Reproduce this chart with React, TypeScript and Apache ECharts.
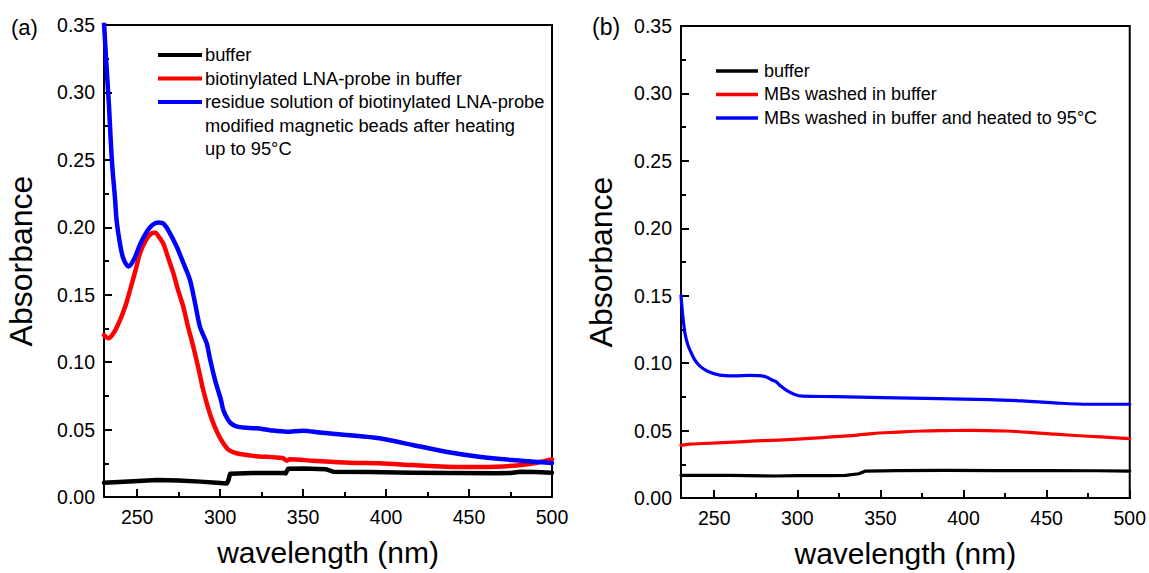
import React, { useEffect, useRef } from "react";
import * as echarts from "echarts";

// ---------- data (wavelength nm, absorbance) ----------
const xMajorTicks = [250, 300, 350, 400, 450, 500];
const xMinorTicks = [275, 325, 375, 425, 475];

const legendA = [
  "buffer",
  "biotinylated LNA-probe in buffer",
  "residue solution of biotinylated LNA-probe\nmodified magnetic beads after heating\nup to 95°C",
];
const legendB = [
  "buffer",
  "MBs washed in buffer",
  "MBs washed in buffer and heated to 95°C",
];

const aBuffer: [number, number][] = [
  [230, 0.0105], [245, 0.0115], [262, 0.0126], [275, 0.0122], [288, 0.0114],
  [298, 0.0105], [304, 0.0101], [305, 0.0125], [306, 0.0172], [320, 0.0178],
  [338, 0.0178], [339.5, 0.0175], [341, 0.021], [350, 0.0212], [364, 0.0205],
  [368, 0.0188], [390, 0.0185], [416, 0.018], [440, 0.0178], [466, 0.0176],
  [475, 0.0178], [481, 0.0188], [490, 0.0186], [500, 0.018],
];
const aProbe: [number, number][] = [
  [230, 0.12], [232.6, 0.1177], [236, 0.122], [239.6, 0.131], [243, 0.142],
  [245.7, 0.1535], [249, 0.168], [251.7, 0.1807], [255, 0.19], [258.7, 0.1955],
  [261, 0.196], [263, 0.193], [265.7, 0.188], [268.5, 0.178], [271.8, 0.166],
  [274.5, 0.154], [277.8, 0.141], [280.5, 0.127], [283.8, 0.1115], [287, 0.095],
  [289.8, 0.0793], [293, 0.065], [295.9, 0.0546], [299, 0.046], [301.9, 0.0398],
  [305, 0.035], [309.9, 0.0324], [320, 0.0305], [338, 0.0287], [340, 0.027],
  [342, 0.028], [356, 0.0269], [378, 0.0254], [396, 0.025], [416, 0.0237],
  [436, 0.0225], [450, 0.0222], [466, 0.0225], [480, 0.0235], [489, 0.025],
  [495, 0.0265], [500, 0.028],
];
const aResidue: [number, number][] = [
  [230, 0.352], [231, 0.33], [232, 0.31], [233, 0.29], [234, 0.266], [235, 0.245],
  [236.6, 0.222], [237.6, 0.205], [239.6, 0.188], [241.6, 0.177], [244.7, 0.171],
  [248, 0.176], [252, 0.188], [256, 0.197], [259, 0.2015], [262.7, 0.2035],
  [266, 0.2025], [270, 0.195], [273.8, 0.1856], [278, 0.173], [281.8, 0.161],
  [285, 0.143], [287.9, 0.126], [291.9, 0.114], [293.6, 0.104], [296.9, 0.0868],
  [300.5, 0.0719], [301.9, 0.0645], [304.9, 0.057], [307.9, 0.0534], [312, 0.0518],
  [322, 0.0509], [330, 0.0495], [340, 0.0484], [350, 0.0492], [360, 0.0478],
  [376, 0.046], [396, 0.0435], [416, 0.0386], [436, 0.0336], [456, 0.0299],
  [476, 0.0274], [500, 0.0252],
];

const bBuffer: [number, number][] = [
  [230, 0.0168], [260, 0.0168], [287, 0.0163], [300, 0.0166], [320, 0.0166],
  [329, 0.0168], [337, 0.018], [341, 0.02], [360, 0.0203], [389, 0.0205],
  [420, 0.0203], [450, 0.0203], [480, 0.0202], [500, 0.02],
];
const bWashed: [number, number][] = [
  [230, 0.039], [235, 0.0399], [255, 0.041], [275, 0.0423], [295, 0.0433],
  [315, 0.0448], [330, 0.046], [345, 0.0478], [360, 0.0488], [375, 0.0497],
  [390, 0.05], [405, 0.0502], [425, 0.0497], [440, 0.0487], [455, 0.0473],
  [475, 0.0458], [490, 0.0448], [500, 0.044],
];
const bHeated: [number, number][] = [
  [230, 0.15], [231, 0.136], [232.4, 0.122], [234, 0.114], [235.4, 0.1097],
  [238, 0.103], [241.4, 0.0978], [246, 0.094], [253.3, 0.0911], [262, 0.0905],
  [271.3, 0.091], [277, 0.0908], [281.3, 0.0898], [284, 0.088], [287.3, 0.0861],
  [290, 0.083], [293.3, 0.08], [298, 0.077], [303.2, 0.0755], [323, 0.0752],
  [351, 0.0745], [385, 0.0737], [415, 0.073], [435, 0.072], [455, 0.0705],
  [475, 0.0695], [500, 0.0695],
];

const COLORS = ["#000000", "#ff0000", "#0000ff"];
const FONT = '"Liberation Sans", Arial, sans-serif';

export default function App() {
  const ref = useRef<HTMLDivElement>(null);

  useEffect(() => {
    document.body.style.margin = "0";
    if (!ref.current) return;
    const chart = echarts.init(ref.current, null, { renderer: "svg" });

    const grids = [
      { left: 104, top: 25, width: 448, height: 472 },
      { left: 681, top: 26, width: 451, height: 475 },
    ];

    const mainX = (gi: number, gap: number) => ({
      type: "value",
      gridIndex: gi,
      min: 230,
      max: 500,
      name: "wavelength (nm)",
      nameLocation: "middle",
      nameGap: gap,
      nameTextStyle: { fontSize: 30, color: "#000", fontFamily: FONT },
      axisLine: { show: true, onZero: false, lineStyle: { color: "#000", width: 2 } },
      axisTick: {
        show: true,
        inside: true,
        length: 8,
        customValues: xMajorTicks,
        lineStyle: { color: "#000", width: 2 },
      },
      axisLabel: {
        show: true,
        customValues: xMajorTicks,
        margin: 10,
        fontSize: 19.5,
        color: "#000",
        fontFamily: FONT,
      },
      splitLine: { show: false },
    });
    const minorX = (gi: number) => ({
      type: "value",
      gridIndex: gi,
      min: 230,
      max: 500,
      position: "bottom",
      axisLine: { show: false },
      axisTick: {
        show: true,
        inside: true,
        length: 5,
        customValues: xMinorTicks,
        lineStyle: { color: "#000", width: 2 },
      },
      axisLabel: { show: false },
      splitLine: { show: false },
    });
    const yAx = (gi: number, gap: number) => ({
      type: "value",
      gridIndex: gi,
      min: 0,
      max: 0.35,
      interval: 0.05,
      name: "Absorbance",
      nameLocation: "middle",
      nameGap: gap,
      nameTextStyle: { fontSize: 32, color: "#000", fontFamily: FONT },
      axisLine: { show: true, onZero: false, lineStyle: { color: "#000", width: 2 } },
      axisTick: { show: true, inside: true, length: 8, lineStyle: { color: "#000", width: 2 } },
      minorTick: { show: true, splitNumber: 2, length: 5, lineStyle: { color: "#000", width: 2 } },
      axisLabel: {
        margin: 9,
        fontSize: 19.5,
        color: "#000",
        fontFamily: FONT,
        formatter: (v: number) => v.toFixed(2),
      },
      splitLine: { show: false },
      minorSplitLine: { show: false },
    });

    const line = (
      name: string,
      data: [number, number][],
      color: string,
      xi: number,
      yi: number,
      w: number,
      smooth: number
    ) => ({
      type: "line",
      name,
      data,
      xAxisIndex: xi,
      yAxisIndex: yi,
      showSymbol: false,
      symbol: "none",
      clip: true,
      smooth,
      lineStyle: { color, width: w, join: "round", cap: "round" },
      itemStyle: { color },
    });

    const legendGraphic = (
      names: string[],
      x0: number,
      x1: number,
      tx: number,
      rows: number[],
      lw: number,
      fs: number
    ) => {
      const els: any[] = [];
      names.forEach((n, i) => {
        els.push({
          type: "line",
          shape: { x1: x0, y1: rows[i], x2: x1, y2: rows[i] },
          style: { stroke: COLORS[i], lineWidth: lw },
          silent: true,
        });
        els.push({
          type: "text",
          x: tx,
          y: rows[i] - 11.7,
          style: {
            text: n,
            fontSize: fs,
            fontFamily: FONT,
            fill: "#000",
            lineHeight: 23.4,
            verticalAlign: "top",
            align: "left",
          },
          silent: true,
        });
      });
      return els;
    };

    chart.setOption({
      animation: false,
      backgroundColor: "#ffffff",
      grid: grids.map((g) => ({
        ...g,
        show: true,
        borderColor: "#000",
        borderWidth: 2,
        backgroundColor: "transparent",
        containLabel: false,
      })),
      xAxis: [mainX(0, 40), minorX(0), mainX(1, 40), minorX(1)],
      yAxis: [yAx(0, 67), yAx(1, 64)],
      series: [
        line(legendA[0], aBuffer, COLORS[0], 0, 0, 4.5, 0),
        line(legendA[1], aProbe, COLORS[1], 0, 0, 4.5, 0.3),
        line(legendA[2], aResidue, COLORS[2], 0, 0, 4.5, 0.3),
        line(legendB[0], bBuffer, COLORS[0], 2, 1, 3.2, 0),
        line(legendB[1], bWashed, COLORS[1], 2, 1, 3.2, 0.3),
        line(legendB[2], bHeated, COLORS[2], 2, 1, 3.2, 0.3),
      ],
      graphic: [
        {
          type: "text",
          x: 11,
          y: 27,
          style: { text: "(a)", fontSize: 22, fontFamily: FONT, fill: "#000", verticalAlign: "middle" },
        },
        {
          type: "text",
          x: 592,
          y: 27,
          style: { text: "(b)", fontSize: 23, fontFamily: FONT, fill: "#000", verticalAlign: "middle" },
        },
        ...legendGraphic(legendA, 158, 202, 205, [55, 78.5, 102], 4, 18.3),
        ...legendGraphic(legendB, 716, 758, 764, [71, 94.5, 118], 3.5, 18),
      ],
    });

    return () => chart.dispose();
  }, []);

  return <div ref={ref} style={{ width: 1149, height: 573 }} />;
}
